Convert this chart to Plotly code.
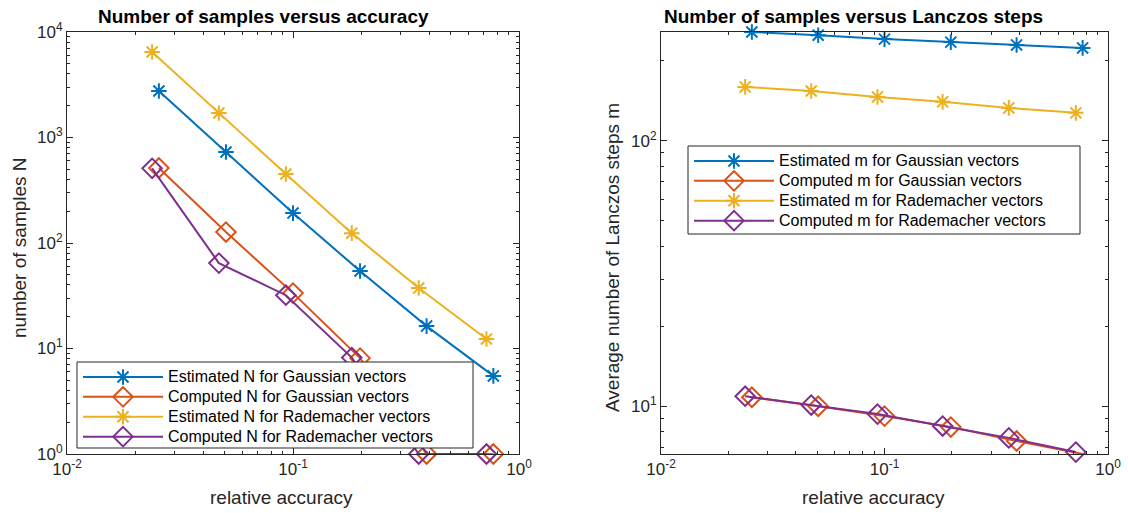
import numpy as np
import plotly.graph_objects as go

# ---------------- data ----------------
acc_gauss = [0.0255, 0.0505, 0.1, 0.198, 0.39, 0.77]
acc_rade = [0.0238, 0.047, 0.093, 0.182, 0.36, 0.718]

N_est_gauss = [2760, 729, 192, 54.3, 16.3, 5.5]
N_comp_gauss = [514, 127, 33.5, 8.1, 1, 1]
N_est_rade = [6460, 1707, 451, 124, 37.4, 12.3]
N_comp_rade = [510, 64.5, 32, 8.2, 1, 1]

m_est_gauss = [257, 250, 241.6, 235.4, 229.7, 223.9]
m_comp_gauss = [10.8, 9.99, 9.17, 8.34, 7.39, 6.6]
m_est_rade = [159.6, 154, 146.3, 140.2, 133, 127.4]
m_comp_rade = [10.9, 10.09, 9.33, 8.41, 7.59, 6.71]

left_names = ["Estimated N for Gaussian vectors", "Computed N for Gaussian vectors",
              "Estimated N for Rademacher vectors", "Computed N for Rademacher vectors"]
right_names = ["Estimated m for Gaussian vectors", "Computed m for Gaussian vectors",
               "Estimated m for Rademacher vectors", "Computed m for Rademacher vectors"]

titles = ["Number of samples versus accuracy", "Number of samples versus Lanczos steps"]
xlabel = "relative accuracy"
ylabels = ["number of samples N", "Average number of Lanczos steps m"]

colors = ["#0072BD", "#D95319", "#EDB120", "#7E2F8E"]
symbols = ["asterisk-open", "diamond-open", "asterisk-open", "diamond-open"]
msizes = [13, 15, 13, 15]

FONT = "Liberation Sans, Arial, Helvetica"
fig = go.Figure()

left_sets = [(acc_gauss, N_est_gauss), (acc_gauss, N_comp_gauss),
             (acc_rade, N_est_rade), (acc_rade, N_comp_rade)]
right_sets = [(acc_gauss, m_est_gauss), (acc_gauss, m_comp_gauss),
              (acc_rade, m_est_rade), (acc_rade, m_comp_rade)]


def legend_label(s):
    return '<span style="font-size:16px">%s</span>' % s


for sets, names, xa, ya, lg in [(left_sets, left_names, "x", "y", "legend"),
                                (right_sets, right_names, "x2", "y2", "legend2")]:
    for i, (xs, ys) in enumerate(sets):
        fig.add_trace(go.Scatter(
            x=xs, y=ys, mode="lines+markers", name=legend_label(names[i]),
            cliponaxis=False,
            line=dict(color=colors[i], width=2),
            marker=dict(symbol=symbols[i], size=msizes[i], color=colors[i],
                        line=dict(color=colors[i], width=2)),
            xaxis=xa, yaxis=ya, legend=lg))

W, H = 1128, 513
axcol = "#262626"
tickfont = dict(family=FONT, size=17, color=axcol)
labfont = dict(family=FONT, size=19, color=axcol)


def pw(e):
    return "10<sup>%d</sup>" % e


def minor_vals(lo, hi):
    out = []
    for d in range(lo, hi):
        for k in range(2, 10):
            out.append(k * 10.0 ** d)
    return out


xt = [-2, -1, 0]
common = dict(type="log", showline=True, linecolor=axcol, linewidth=1, mirror="ticks",
              ticks="inside", ticklen=6, tickcolor=axcol, tickwidth=1, showgrid=False,
              zeroline=False, tickfont=tickfont, automargin=False)

xaxis_common = dict(common, range=[-2, 0], tickvals=[10.0 ** e for e in xt],
                    ticktext=[pw(e) for e in xt],
                    minor=dict(tickvals=minor_vals(-2, 0), ticks="inside", ticklen=3,
                               tickcolor=axcol, showgrid=False))

yl = [0, 1, 2, 3, 4]
r_all = m_est_gauss + m_comp_gauss + m_est_rade + m_comp_rade
r_lo, r_hi = np.log10(min(r_all)), np.log10(max(r_all))

legfont = dict(family=FONT, size=13, color="black")
fig.update_layout(
    width=W, height=H, margin=dict(l=0, r=0, t=0, b=0, autoexpand=False),
    paper_bgcolor="white", plot_bgcolor="white", showlegend=True,
    xaxis=dict(xaxis_common, domain=[67 / W, 519 / W], anchor="y"),
    yaxis=dict(common, range=[0, 4], domain=[1 - 454 / H, 1 - 32 / H], anchor="x",
               tickvals=[10.0 ** e for e in yl], ticktext=[pw(e) for e in yl],
               minor=dict(tickvals=minor_vals(0, 4), ticks="inside", ticklen=3,
                          tickcolor=axcol, showgrid=False)),
    xaxis2=dict(xaxis_common, domain=[661 / W, 1108 / W], anchor="y2"),
    yaxis2=dict(common, range=[r_lo, r_hi], domain=[1 - 454 / H, 1 - 32 / H], anchor="x2",
                tickvals=[10.0, 100.0], ticktext=[pw(1), pw(2)],
                minor=dict(tickvals=[7, 8, 9, 20, 30, 40, 50, 60, 70, 80, 90, 200],
                           ticks="inside", ticklen=3, tickcolor=axcol, showgrid=False)),
    legend=dict(x=78 / W, y=1 - 362 / H, xanchor="left", yanchor="top",
                bgcolor="rgba(0,0,0,0)", borderwidth=0,
                font=legfont, itemwidth=80, tracegroupgap=0),
    legend2=dict(x=689 / W, y=1 - 146 / H, xanchor="left", yanchor="top",
                 bgcolor="rgba(0,0,0,0)", borderwidth=0,
                 font=legfont, itemwidth=80, tracegroupgap=0),
)

# legend boxes (drawn above the data, below the legend entries)
for (x0, y0, x1, y1) in [(77, 362, 473, 448), (688, 146, 1080, 234)]:
    fig.add_shape(type="rect", xref="paper", yref="paper",
                  x0=x0 / W, x1=x1 / W, y0=1 - y0 / H, y1=1 - y1 / H,
                  fillcolor="white", line=dict(color=axcol, width=1), layer="above")

# titles
for txt, cx in zip(titles, [263, 853]):
    fig.add_annotation(text="<b>%s</b>" % txt, x=cx / W, y=1 - 16 / H, xref="paper",
                       yref="paper", showarrow=False, xanchor="center", yanchor="middle",
                       font=dict(family=FONT, size=19, color="black"))

# x axis labels
for cx in [281, 873]:
    fig.add_annotation(text=xlabel, x=cx / W, y=1 - 497 / H, xref="paper", yref="paper",
                       showarrow=False, xanchor="center", yanchor="middle", font=labfont)

# y axis labels
for txt, cx, cy in zip(ylabels, [19, 612], [248, 258]):
    fig.add_annotation(text=txt, x=cx / W, y=1 - cy / H, xref="paper", yref="paper",
                       showarrow=False, xanchor="center", yanchor="middle", textangle=-90,
                       font=labfont)

fig.write_html("out.html", config={"displayModeBar": False},
               post_script="document.body.style.margin='0';"
                           "document.body.style.overflow='hidden';")
